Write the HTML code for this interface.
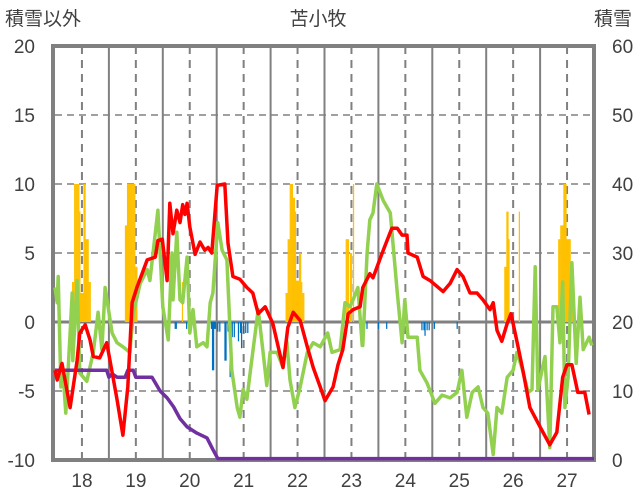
<!DOCTYPE html>
<html><head><meta charset="utf-8">
<style>
html,body{margin:0;padding:0;background:#fff;}
svg{display:block;font-family:"Liberation Sans","Noto Sans CJK JP",sans-serif;}
</style></head>
<body>
<svg id="chart" width="636" height="501" viewBox="0 0 636 501" xmlns="http://www.w3.org/2000/svg">
<text x="5" y="25" font-size="19" fill="#404040">積雪以外</text>
<text x="318" y="25" font-size="19" fill="#404040" text-anchor="middle">苫小牧</text>
<text x="632" y="25" font-size="19" fill="#404040" text-anchor="end">積雪</text>
<g id="grid"></g>
<g id="bars"></g>
<rect x="53" y="46" width="541" height="414" fill="none" stroke="#808080" stroke-width="4"/>
<g id="lines"></g>
<g id="ticks"></g>
</svg>
<script>
const leftTicks = [20, 15, 10, 5, 0, -5, -10];
const rightTicks = [60, 50, 40, 30, 20, 10, 0];
const yearLabels = ["18","19","20","21","22","23","24","25","26","27"];

const redT = [0,.04,.13,.28,.41,.46,.56,.65,.71,.83,.96,1.02,1.15,1.26,1.35,1.43,1.52,1.71,1.86,1.91,1.99,2.08,2.13,2.19,2.26,2.32,2.37,2.41,2.45,2.50,2.60,2.69,2.78,2.84,2.91,3.01,3.15,3.21,3.30,3.43,3.56,3.67,3.77,3.90,4.04,4.23,4.32,4.42,4.55,4.68,4.79,4.92,5.01,5.16,5.25,5.34,5.44,5.53,5.66,5.71,5.84,5.90,6.07,6.16,6.25,6.35,6.44,6.53,6.55,6.72,6.83,6.96,7.20,7.33,7.46,7.57,7.70,7.83,7.94,8.07,8.13,8.20,8.29,8.39,8.46,8.57,8.68,8.81,9.00,9.18,9.31,9.42,9.50,9.59,9.70,9.83,9.91];
const redV = [-3.5,-4.2,-3,-6.2,-2.8,-0.8,-0.2,-1.3,-2.5,-2.6,-1.5,-2.8,-5.6,-8.2,-4.7,1.4,2.5,4.5,4.7,5.9,6,3,8.6,6.4,8.1,7.2,8.5,7.8,8.6,6.9,4.9,5.8,5.2,5.4,5,9.9,10,5.7,3.3,3.1,2.5,2.1,0.6,1.1,-0.1,-3.3,-0.4,0.7,0.1,-1.8,-3.3,-4.7,-5.7,-4.7,-3.1,-2,0.6,0.9,1.1,2.5,3.5,3.2,5,5.9,6.8,6.8,6.3,6.3,5,4.7,3.3,3,2.2,2.8,3.8,3.3,2.1,2.1,1.6,0.9,1.4,-0.6,-1.4,-0.1,0.6,-1.4,-3.5,-6.2,-7.6,-8.9,-8,-4,-3.1,-3.1,-5.1,-5.1,-6.7];

const greenT = [0,.04,.06,.11,.15,.20,.28,.32,.33,.41,.46,.59,.71,.80,.87,.93,1.06,1.15,1.26,1.39,1.45,1.58,1.71,1.76,1.91,2.00,2.10,2.17,2.19,2.26,2.32,2.37,2.45,2.50,2.56,2.63,2.75,2.82,2.88,2.93,3.02,3.10,3.19,3.28,3.38,3.43,3.49,3.56,3.62,3.77,3.86,3.93,3.99,4.12,4.23,4.30,4.36,4.45,4.55,4.68,4.79,4.92,5.06,5.14,5.29,5.38,5.47,5.53,5.62,5.70,5.71,5.79,5.84,5.90,5.97,6.09,6.22,6.35,6.44,6.49,6.55,6.72,6.77,6.90,7.05,7.18,7.33,7.46,7.55,7.64,7.74,7.85,7.94,8.03,8.13,8.20,8.29,8.39,8.50,8.57,8.66,8.78,8.85,8.91,8.96,9.09,9.18,9.24,9.31,9.37,9.42,9.46,9.52,9.59,9.67,9.74,9.80,9.91,9.96];
const greenV = [2.5,1.4,3.3,-4.7,-3.7,-6.6,-0.8,2.1,-2.8,3,-3.7,-4.3,-2.2,0.7,-2,2.5,-0.8,-1.5,-1.8,-2.2,0.6,2.8,3.8,3,8.1,1.1,-1.3,5,1.6,6.5,1.6,1.4,4.7,-0.8,0.9,-1.8,-1.5,-1.8,1.4,2.1,7.2,5.2,4.5,-3.5,-6.2,-6.9,-4.9,-5.6,-3.7,0.9,-2.2,-4.6,-2.2,-2.2,-3.3,-1.4,-4.2,-6.2,-4.7,-2.2,-1.5,-1.8,-0.8,-2.2,-2,1.4,1.1,1.6,2.5,-1.7,-1.7,5,7.4,7.9,10,8.8,7.9,2.1,-1.5,1.6,-1.1,-1.1,-3.5,-4.4,-5.9,-5.3,-5.5,-5.1,-3.5,-6.9,-5.1,-4.7,-6.2,-6.6,-9.6,-6.2,-6.6,-4,-3.5,-2.2,-3.3,-5.1,-4.9,4,-4.9,-2.5,-9.1,1.1,1.1,-1.5,2.9,-6.2,-4,4.3,-3,1.8,-2,-1.1,-1.7];

const purpleT = [0,.96,1.0,1.06,1.15,1.3,1.35,1.45,1.5,1.8,1.95,2.08,2.2,2.32,2.45,2.63,2.82,2.93,3.02,10];
const purpleV = [13,13,12,12.5,12,12,13,13,12,12,10,9,7.7,6,4.8,3.9,3.2,1.5,0.2,0.2];

const orangeW = [17,18,19,20,21,22,23,24,25,26,27,28,29,30,31,32,33,34,68,69,70,71,72,73,74,75,76,77,78,79,123,223,224,225,226,227,228,229,230,231,232,233,234,235,236,237,238,239,240,281,282,283,285,286,288,434,435,436,437,438,448,486,487,488,489,490,491,492,493,494,495,496,497,498,499];
const orangeV = [2.9,2.9,10,10,10,10,10,8,2.1,2.1,2.1,10,10,6,6,6,2.9,2.9,7,7,10,10,10,10,10,10,10,10,4,4,2.9,2.1,2.1,6,6,10,10,10,9,9,8,3,3,3,5,5,2.9,2.1,2.1,6,6,6,5,5,10,4,4,8,8,6,8,6,6,7,7,7,10,10,10,6,6,6,6,4,4];
const blueW = [116,117,127,151,152,153,154,155,157,159,164,165,167,169,171,173,177,179,180,182,184,186,301,312,320,354,356,357,359,361,366,388];
const blueV = [-0.5,-0.5,-0.5,-0.5,-3.5,-3.5,-0.5,-0.5,-0.7,-0.7,-2.8,-2.8,-0.7,-4,-1.1,-1.1,-1.4,-0.8,-1.9,-0.8,-0.8,-0.8,-0.5,-0.5,-0.5,-0.6,-0.6,-1,-0.6,-0.6,-0.5,-0.5];

const NS = "http://www.w3.org/2000/svg";
const X0 = 55, X1 = 594, Y0 = 46, Y1 = 460;
const xS = t => X0 + t * (X1 - X0) / 10;
const wS = w => xS(w / 52);
const yL = v => Y1 - (v + 10) * (Y1 - Y0) / 30;
const yR = v => Y1 - v * (Y1 - Y0) / 60;
function mk(tag, attrs, parent) {
  const e = document.createElementNS(NS, tag);
  for (const k in attrs) e.setAttribute(k, attrs[k]);
  parent.appendChild(e); return e;
}
const grid = document.getElementById('grid');
const bars = document.getElementById('bars');
const lines = document.getElementById('lines');
const ticks = document.getElementById('ticks');

leftTicks.forEach(v => {
  const y = yL(v);
  if (v !== 20 && v !== -10) {
    const l = mk('line', {x1: X0, x2: X1, y1: y, y2: y, stroke: '#808080', 'stroke-width': v === 0 ? 3 : 1.5, 'stroke-dasharray': v === 0 ? 'none' : '7,5'}, grid);
    
    
  }
  const t = mk('text', {x: 35, y: y + 7, 'font-size': 19, fill: '#404040', 'text-anchor': 'end'}, ticks);
  t.textContent = v;
  
  
});
rightTicks.forEach(v => {
  const t = mk('text', {x: 612, y: yR(v) + 7, 'font-size': 19, fill: '#404040'}, ticks);
  t.textContent = v;
  
  
});
yearLabels.forEach((lab, i) => {
  if (i > 0) {
    const s = mk('line', {x1: xS(i), x2: xS(i), y1: Y0, y2: Y1, stroke: '#808080', 'stroke-width': 2}, grid);
    
    
  }
  const d = mk('line', {x1: xS(i + 0.5), x2: xS(i + 0.5), y1: Y0, y2: Y1, stroke: '#808080', 'stroke-width': 2, 'stroke-dasharray': '8,6'}, grid);
  
  
  const t = mk('text', {x: xS(i + 0.5), y: 487, 'font-size': 19, fill: '#404040', 'text-anchor': 'middle'}, ticks);
  t.textContent = lab;
  
  
});
const bw = (X1 - X0) / 520 * 1.2;
orangeW.forEach((w, i) => {
  const v = orangeV[i];
  const r = mk('rect', {x: wS(w) - bw / 2, y: yL(v), width: bw, height: yL(0) - yL(v), fill: '#FFC000'}, bars);
  
  
});
blueW.forEach((w, i) => {
  const v = blueV[i];
  const r = mk('rect', {x: wS(w) - bw / 2, y: yL(0), width: bw, height: yL(v) - yL(0), fill: '#0070C0'}, bars);
  
  
});
function path(T, V, ys, color, name) {
  let d = '';
  T.forEach((t, i) => { d += (i ? 'L' : 'M') + xS(t).toFixed(1) + ',' + ys(V[i]).toFixed(1); });
  const p = mk('path', {d: d, fill: 'none', stroke: color, 'stroke-width': 3.5, 'stroke-linejoin': 'round'}, lines);
  
  
}
path(greenT, greenV, yL, '#92D050', 'green-line');
path(purpleT, purpleV, yR, '#7030A0', 'snow-depth-line');
path(redT, redV, yL, '#FF0000', 'red-line');
</script>
</body></html>
